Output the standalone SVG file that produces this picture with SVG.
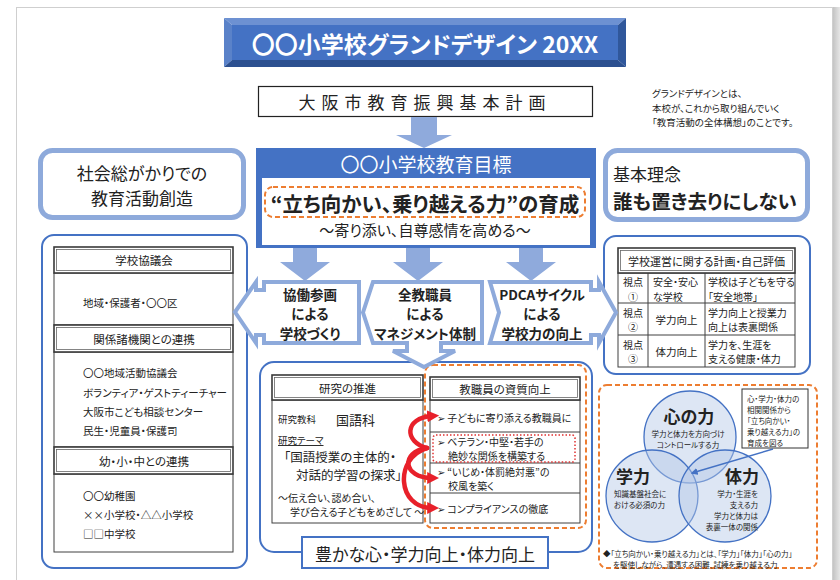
<svg xmlns="http://www.w3.org/2000/svg" width="840" height="580" viewBox="0 0 840 580">
<defs>
<style>
text{font-family:"Noto Sans CJK JP","Noto Sans",sans-serif;font-feature-settings:"palt";dominant-baseline:central;fill:#222}
.c{text-anchor:middle}
.b{font-weight:bold}
.w{fill:#fff}
.blu{fill:#4472c4}
.lb{fill:#fff;stroke:#8eaadb;stroke-width:5}
.ob{fill:#fff;stroke:#8eaadb;stroke-width:4;stroke-linejoin:miter}
.bb{fill:#fff;stroke:#4472c4;stroke-width:2}
.cell{fill:#fff;stroke:#404040;stroke-width:1}
.ho{fill:#fff;stroke:#3a3a3a;stroke-width:1.6}
.hi{fill:none;stroke:#666;stroke-width:0.8}
.od{fill:none;stroke:#ed7d31;stroke-width:2;stroke-dasharray:5 3}
.sa{fill:#8faadc}
.red{fill:none;stroke:#e8202a;stroke-width:4.5;stroke-linecap:round}
.circ{fill:#b4c7e7;fill-opacity:0.45;stroke:#4472c4;stroke-width:1.3}
</style>
<marker id="rh" viewBox="0 0 10 10" refX="4" refY="5" markerWidth="12" markerHeight="12" markerUnits="userSpaceOnUse" orient="auto">
<path d="M0,0 L10,5 L0,10 z" fill="#e8202a"/>
</marker>
<marker id="bh" viewBox="0 0 10 10" refX="8" refY="5" markerWidth="7" markerHeight="7" markerUnits="userSpaceOnUse" orient="auto">
<path d="M0,0 L10,5 L0,10 z" fill="#4472c4"/>
</marker>
<linearGradient id="sh" x1="0" x2="1" y1="0" y2="0">
<stop offset="0" stop-color="#c4c4c4"/><stop offset="1" stop-color="#e6e6e6"/>
</linearGradient>
</defs>

<g id="page">
<rect x="0" y="0" width="840" height="580" fill="#fff"/>
<rect x="833" y="7" width="7" height="573" fill="url(#sh)"/>
<rect x="16.5" y="7.5" width="816" height="580" fill="#fff" stroke="#cfcfcf" stroke-width="1"/>
</g>

<g id="title">
<polygon points="224,18 626,18 618,25 232,25" fill="#6d91d2"/>
<polygon points="224,18 232,25 232,60 224,67" fill="#5a82c9"/>
<polygon points="626,18 626,67 618,60 618,25" fill="#30579b"/>
<polygon points="224,67 232,60 618,60 626,67" fill="#2c5090"/>
<rect x="232" y="25" width="386" height="35" class="blu"/>
<text x="425" y="43" class="c b w" font-size="23">〇〇小学校グランドデザイン 20XX</text>
</g>

<g id="plan">
<rect x="258.5" y="86.5" width="334" height="30" fill="#fff" stroke="#222" stroke-width="1.2"/>
<text x="425" y="101" class="c" font-size="17" letter-spacing="6">大阪市教育振興基本計画</text>
</g>

<g id="note">
<text x="652" y="93" font-size="9.5">グランドデザインとは、</text>
<text x="652" y="107.5" font-size="9.5">本校が、これから取り組んでいく</text>
<text x="652" y="122" font-size="9.5">「教育活動の全体構想」のことです。</text>
</g>

<g id="society">
<rect x="40.5" y="150.5" width="203" height="67" rx="12" class="lb"/>
<text x="142" y="172" class="c" font-size="17">社会総がかりでの</text>
<text x="142" y="197" class="c" font-size="17">教育活動創造</text>
</g>

<g id="goal">
<rect x="256" y="148" width="340" height="100" class="blu"/>
<text x="426" y="163" class="c w" font-size="19">〇〇小学校教育目標</text>
<rect x="262" y="178" width="328" height="67" fill="#fff"/>
<rect x="265" y="187" width="320" height="30" rx="8" class="od"/>
<text x="425" y="203" class="c b" font-size="20.5">“立ち向かい、乗り越える力”の育成</text>
<text x="425" y="229" class="c" font-size="15">〜寄り添い、自尊感情を高める〜</text>
</g>

<g id="philosophy">
<rect x="605.5" y="150.5" width="202" height="69" rx="12" class="lb"/>
<text x="613" y="173" font-size="17">基本理念</text>
<text x="613" y="200" class="b" font-size="19.5">誰も置き去りにしない</text>
</g>

<g id="left-panel">
<rect x="42" y="235" width="205" height="333" rx="12" class="bb"/>
<rect x="54" y="273" width="179" height="52" class="cell"/>
<rect x="54" y="352" width="179" height="95" class="cell"/>
<rect x="54" y="474" width="179" height="78" class="cell"/>
<rect x="54" y="247" width="179" height="26" class="ho"/><rect x="56.5" y="249.5" width="174" height="21" class="hi"/>
<text x="144" y="260" class="c" font-size="11.5">学校協議会</text>
<text x="83" y="302" font-size="10.5">地域・保護者・〇〇区</text>
<rect x="54" y="325" width="179" height="27" class="ho"/><rect x="56.5" y="327.5" width="174" height="22" class="hi"/>
<text x="144" y="338.5" class="c" font-size="11.5">関係諸機関との連携</text>
<text x="83" y="372" font-size="10.5">〇〇地域活動協議会</text>
<text x="83" y="392" font-size="10.5">ボランティア・ゲストティーチャー</text>
<text x="83" y="411" font-size="10.5">大阪市こども相談センター</text>
<text x="83" y="430" font-size="10.5">民生・児童員・保護司</text>
<rect x="54" y="447" width="179" height="27" class="ho"/><rect x="56.5" y="449.5" width="174" height="22" class="hi"/>
<text x="144" y="460.5" class="c" font-size="11.5">幼・小・中との連携</text>
<text x="83" y="495" font-size="10.5">〇〇幼稚園</text>
<text x="83" y="514" font-size="10.5">××小学校・△△小学校</text>
<text x="83" y="533" font-size="10.5">□□中学校</text>
</g>

<g id="right-panel">
<rect x="604" y="236" width="206" height="138" rx="12" class="bb"/>
<rect x="618" y="273" width="177" height="94" class="cell"/>
<line x1="618" y1="303" x2="795" y2="303" stroke="#404040"/>
<line x1="618" y1="335" x2="795" y2="335" stroke="#404040"/>
<line x1="648" y1="273" x2="648" y2="367" stroke="#404040"/>
<line x1="705" y1="273" x2="705" y2="367" stroke="#404040"/>
<rect x="618" y="248" width="177" height="25" class="ho"/><rect x="620.5" y="250.5" width="172" height="20" class="hi"/>
<text x="706.5" y="261" class="c" font-size="11">学校運営に関する計画・自己評価</text>
<text x="633" y="281.5" class="c" font-size="10">視点</text><text x="633" y="296" class="c" font-size="10">①</text>
<text x="653" y="281.5" font-size="10">安全・安心</text><text x="653" y="296" font-size="10">な学校</text>
<text x="708" y="281.5" font-size="10">学校は子どもを守る</text><text x="708" y="296" font-size="10">「安全地帯」</text>
<text x="633" y="312" class="c" font-size="10">視点</text><text x="633" y="326.5" class="c" font-size="10">②</text>
<text x="676.5" y="319" class="c" font-size="10.5">学力向上</text>
<text x="708" y="312" font-size="10">学力向上と授業力</text><text x="708" y="326.5" font-size="10">向上は表裏関係</text>
<text x="633" y="344" class="c" font-size="10">視点</text><text x="633" y="358.5" class="c" font-size="10">③</text>
<text x="676.5" y="351" class="c" font-size="10.5">体力向上</text>
<text x="708" y="344" font-size="10">学力を、生涯を</text><text x="708" y="358.5" font-size="10">支える健康・体力</text>
</g>

<g id="lower-panel">
<rect x="260" y="362" width="332" height="190" rx="14" class="bb"/>
<rect x="272" y="400" width="151" height="123" class="cell"/>
<rect x="272" y="375" width="151" height="25" class="ho"/><rect x="274.5" y="377.5" width="146" height="20" class="hi"/>
<text x="347.5" y="388" class="c" font-size="11.5">研究の推進</text>
<text x="278" y="419" font-size="9.5">研究教科</text>
<text x="336" y="419" font-size="13">国語科</text>
<text x="278" y="440" font-size="9.5" text-decoration="underline">研究テーマ</text>
<text x="284" y="456" font-size="12.5">「国語授業の主体的・</text>
<text x="296" y="474" font-size="12.5">対話的学習の探求」</text>
<text x="278" y="497" font-size="10">〜伝え合い、認め合い、</text>
<text x="290" y="511.5" font-size="10">学び合える子どもをめざして 〜</text>
<rect x="425" y="365" width="161" height="163" rx="8" class="od"/>
<rect x="430" y="400" width="150" height="123" class="cell"/>
<line x1="430" y1="432" x2="580" y2="432" stroke="#404040"/>
<line x1="430" y1="463" x2="580" y2="463" stroke="#404040"/>
<line x1="430" y1="493" x2="580" y2="493" stroke="#404040"/>
<rect x="430" y="377" width="150" height="23" class="ho"/><rect x="432.5" y="379.5" width="145" height="18" class="hi"/>
<text x="505" y="388.5" class="c" font-size="11.5">教職員の資質向上</text>
<rect x="433" y="435" width="142" height="27" rx="3" fill="none" stroke="#e03030" stroke-width="1.5" stroke-dasharray="1.5 2"/>
<text x="437" y="417" font-size="10">➢ 子どもに寄り添える教職員に</text>
<text x="437" y="441" font-size="10">➢ ベテラン・中堅・若手の</text>
<text x="448" y="455.5" font-size="10">絶妙な関係を構築する</text>
<text x="437" y="471" font-size="10">➢ “いじめ・体罰絶対悪”の</text>
<text x="448" y="485.5" font-size="10">校風を築く</text>
<text x="437" y="508" font-size="10">➢ コンプライアンスの徹底</text>
</g>

<g id="outcome">
<rect x="302" y="537" width="246" height="31" class="bb"/>
<text x="425" y="553" class="c" font-size="17">豊かな心・学力向上・体力向上</text>
</g>

<g id="collab">
<polygon points="235,312 256,282 256,290 264,290 264,282 359,282 359,343 264,343 264,335 256,335 256,343" class="ob"/>
<text x="310" y="293.5" class="c b" font-size="13.5">協働参画</text>
<text x="310" y="313" class="c b" font-size="13.5">による</text>
<text x="310" y="332.5" class="c b" font-size="13.5">学校づくり</text>
</g>

<g id="management">
<polygon points="373,282 482,282 482,343 441,343 441,351 455,351 424,367 393,351 407,351 407,343 373,343 363,312.5" class="ob"/>
<text x="425" y="293.5" class="c b" font-size="13.5">全教職員</text>
<text x="425" y="313" class="c b" font-size="13.5">による</text>
<text x="425" y="332.5" class="c b" font-size="13.5">マネジメント体制</text>
</g>

<g id="pdca">
<polygon points="490,282 591,282 591,290 599,290 599,282 616,312.5 599,343 599,335 591,335 591,343 490,343 499,312.5" class="ob"/>
<text x="542" y="293.5" class="c b" font-size="13.5">PDCAサイクル</text>
<text x="542" y="313" class="c b" font-size="13.5">による</text>
<text x="542" y="332.5" class="c b" font-size="13.5">学校力の向上</text>
</g>

<g id="venn">
<rect x="599" y="385" width="218" height="183" rx="8" class="od"/>
<circle cx="690" cy="437" r="46" class="circ"/>
<circle cx="652" cy="496" r="46" class="circ"/>
<circle cx="725" cy="496" r="46" class="circ"/>
<text x="689" y="415" class="c b" font-size="17">心の力</text>
<text x="688" y="433" class="c" font-size="7.5">学力と体力を方向づけ</text>
<text x="688" y="444" class="c" font-size="7.5">コントロールする力</text>
<text x="633" y="475" class="c b" font-size="17">学力</text>
<text x="614" y="493" font-size="7.5">知識基盤社会に</text>
<text x="614" y="504" font-size="7.5">おける必須の力</text>
<text x="742" y="475" class="c b" font-size="17">体力</text>
<text x="758" y="493" font-size="7.5" text-anchor="end">学力・生涯を</text>
<text x="758" y="504" font-size="7.5" text-anchor="end">支える力</text>
<text x="758" y="515" font-size="7.5" text-anchor="end">学力と体力は</text>
<text x="758" y="526" font-size="7.5" text-anchor="end">表裏一体の関係</text>
<rect x="742" y="389" width="66" height="59" fill="#fff" stroke="#333" stroke-width="1"/>
<text x="747" y="398" font-size="7.5">心・学力・体力の</text>
<text x="747" y="409" font-size="7.5">相関関係から</text>
<text x="747" y="420" font-size="7.5">「立ち向かい・</text>
<text x="747" y="431" font-size="7.5">乗り越える力」の</text>
<text x="747" y="442" font-size="7.5">育成を図る</text>
<text x="603" y="553" font-size="7.5">◆「立ち向かい・乗り越える力」とは、「学力」「体力」「心の力」</text>
<text x="613" y="564" font-size="7.5">を駆使しながら、遭遇する困難、試練を乗り越える力</text>
</g>

<g id="connectors">
<polygon points="411,117 437,117 437,135 452,135 424,148 396,135 411,135" class="sa"/>
<polygon points="293,248 317,248 317,262 330,262 305,281 280,262 293,262" class="sa"/>
<polygon points="406,248 430,248 430,262 443,262 418,281 393,262 406,262" class="sa"/>
<polygon points="519,248 543,248 543,262 556,262 531,281 506,262 519,262" class="sa"/>
<path d="M427,448 C404,442 404,418 432,416" class="red" marker-end="url(#rh)"/>
<path d="M427,448 C400,452 403,478 432,478" class="red" marker-end="url(#rh)"/>
<path d="M427,448 C394,458 397,508 432,508" class="red" marker-end="url(#rh)"/>
<line x1="773" y1="449" x2="692" y2="473" stroke="#4472c4" stroke-width="1.5" marker-end="url(#bh)"/>
</g>
</svg>
